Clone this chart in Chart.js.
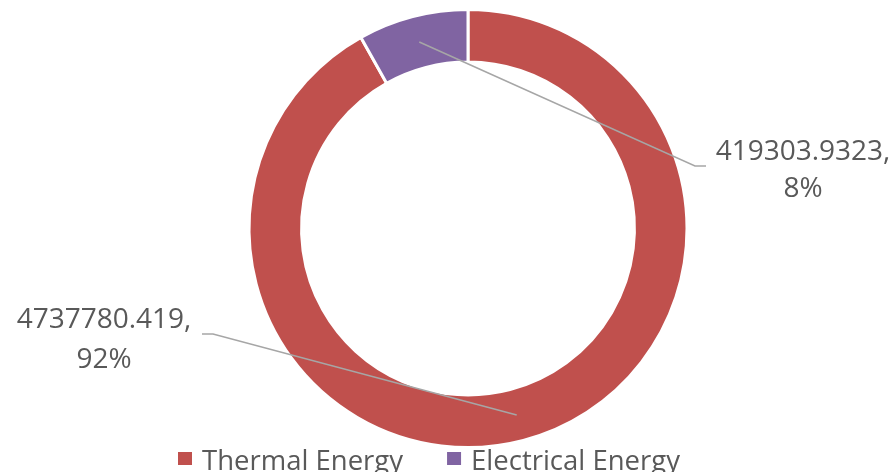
<!DOCTYPE html>
<html>
<head>
<meta charset="utf-8">
<script src="https://cdn.jsdelivr.net/npm/chart.js@4"></script>
<style>
  html, body { margin: 0; padding: 0; background: #fff; }
  #wrap { width: 895px; height: 472px; position: relative; }
</style>
</head>
<body>
<div id="wrap"><canvas id="chart"></canvas></div>
<script>
// Dados do gráfico
const categorias = ['Thermal Energy', 'Electrical Energy'];
const valores = [4737780.419, 419303.9323];
const cores = ['#C0504D', '#8064A2'];

// Posições dos rótulos (linha de chamada -> cotovelo -> texto)
const rotulos = [
  { cotovelo: [213, 334], fim: [202, 334], textoX: 104, linhas: [328, 368] },
  { cotovelo: [695, 166], fim: [706, 166], textoX: 803, linhas: [160, 197] }
];

const corTexto = '#595959';
const fonte = '"Open Sans", sans-serif';

function formatarPercentual(v) {
  const total = valores.reduce((a, b) => a + b, 0);
  return Math.round(v / total * 100) + '%';
}

// Plugin para rótulos com linhas de chamada
const rotulosPlugin = {
  id: 'rotulos',
  afterDatasetsDraw(chart) {
    const ctx = chart.ctx;
    const meta = chart.getDatasetMeta(0);
    ctx.save();
    meta.data.forEach((arc, i) => {
      const r = rotulos[i];
      const p = arc.tooltipPosition();
      ctx.strokeStyle = '#A6A6A6';
      ctx.lineWidth = 1.5;
      ctx.beginPath();
      ctx.moveTo(p.x, p.y);
      ctx.lineTo(r.cotovelo[0], r.cotovelo[1]);
      ctx.lineTo(r.fim[0], r.fim[1]);
      ctx.stroke();

      ctx.fillStyle = corTexto;
      ctx.font = '28px ' + fonte;
      ctx.textAlign = 'center';
      ctx.textBaseline = 'alphabetic';
      ctx.fillText(String(valores[i]) + ',', r.textoX, r.linhas[0]);
      ctx.fillText(formatarPercentual(valores[i]), r.textoX, r.linhas[1]);
    });
    ctx.restore();
  }
};

// Plugin para a legenda
const legendaPlugin = {
  id: 'legenda',
  afterDraw(chart) {
    const ctx = chart.ctx;
    ctx.save();
    ctx.font = '27.5px ' + fonte;
    ctx.textBaseline = 'alphabetic';
    ctx.textAlign = 'left';
    let x = 178;
    const yCaixa = 452;
    const baseline = 470;
    chart.data.labels.forEach((label, i) => {
      ctx.fillStyle = chart.data.datasets[0].backgroundColor[i];
      ctx.fillRect(x, yCaixa, 14, 13);
      x += 14 + 10;
      ctx.fillStyle = corTexto;
      ctx.fillText(label, x, baseline);
      x += ctx.measureText(label).width + 44;
    });
    ctx.restore();
  }
};

const chart = new Chart(document.getElementById('chart'), {
  type: 'doughnut',
  data: {
    labels: categorias,
    datasets: [{
      data: valores,
      backgroundColor: cores,
      borderColor: '#ffffff',
      borderWidth: 3
    }]
  },
  options: {
    responsive: true,
    maintainAspectRatio: false,
    animation: false,
    cutout: '76%',
    layout: {
      padding: { top: 8, bottom: 23, left: 41, right: 0 }
    },
    plugins: {
      legend: { display: false },
      tooltip: { enabled: false }
    }
  },
  plugins: [rotulosPlugin, legendaPlugin]
});
</script>
</body>
</html>
